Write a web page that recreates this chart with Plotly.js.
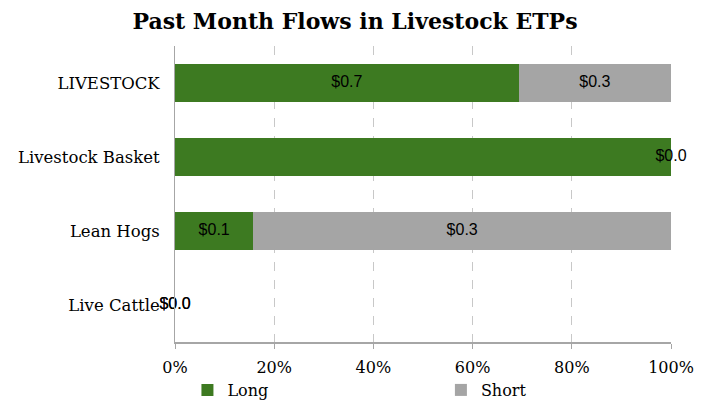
<!DOCTYPE html>
<html>
<head>
<meta charset="utf-8">
<script src="https://cdn.plot.ly/plotly-3.0.1.min.js"></script>
<style>html,body{margin:0;padding:0;background:#fff;}#chart{width:710px;height:405px;}</style>
</head>
<body>
<div id="chart"></div>
<script>
// Data (USD billions)
var categories = ["LIVESTOCK", "Livestock Basket", "Lean Hogs", "Live Cattle"];
var longValues = [0.70, 0.04, 0.06, 0.0];
var shortValues = [0.31, 0.0, 0.32, 0.0];
var longLabels = ["$0.7", "", "$0.1", "$0.0"];
var shortLabels = ["$0.3", "$0.0", "$0.3", "$0.0"];
var tickVals = [0, 20, 40, 60, 80, 100];
var tickText = ["0%", "20%", "40%", "60%", "80%", "100%"];

function pct(a, b) { var t = a + b; return t > 0 ? a / t * 100 : 0; }
var longPct = categories.map(function (c, i) { return pct(longValues[i], shortValues[i]); });
var shortPct = categories.map(function (c, i) { return pct(shortValues[i], longValues[i]); });
var longMid = longPct.map(function (p) { return p / 2; });
var shortMid = longPct.map(function (p, i) { return p + shortPct[i] / 2; });

var green = "rgb(61,122,33)";
var gray = "rgb(165,165,165)";
var labelFont = { family: "Liberation Sans, Arial, sans-serif", size: 16, color: "#000" };

var traces = [
  { type: "bar", orientation: "h", name: "Long", y: categories, x: longPct,
    marker: { color: green }, hoverinfo: "skip", legend: "legend" },
  { type: "bar", orientation: "h", name: "Short", y: categories, x: shortPct,
    marker: { color: gray }, hoverinfo: "skip", legend: "legend2" },
  { type: "scatter", mode: "text", y: categories, x: longMid, text: longLabels,
    textfont: labelFont, textposition: "middle center", showlegend: false,
    cliponaxis: false, hoverinfo: "skip" },
  { type: "scatter", mode: "text", y: categories, x: shortMid, text: shortLabels,
    textfont: labelFont, textposition: "middle center", showlegend: false,
    cliponaxis: false, hoverinfo: "skip" }
];

var serif = "DejaVu Serif, Georgia, serif";
var legendFont = { family: serif, size: 16, color: "#000" };
var layout = {
  width: 710, height: 405,
  margin: { l: 175, r: 39, t: 46, b: 63, autoexpand: false },
  paper_bgcolor: "#fff", plot_bgcolor: "#fff",
  barmode: "stack", bargap: 0.49,
  font: { family: serif, size: 15, color: "#000" },
  title: { text: "<b>Past Month Flows in Livestock ETPs</b>", x: 0.5, xanchor: "center",
           y: 0.948, yanchor: "middle",
           font: { family: serif, size: 22, color: "#000" } },
  xaxis: { range: [0, 100], tickvals: tickVals, ticktext: tickText,
           showgrid: true, gridcolor: "#c8c8c8", griddash: "dash", gridwidth: 1,
           showline: true, linecolor: "#a6a6a6", linewidth: 1.5,
           ticks: "outside", ticklen: 5, tickcolor: "#a6a6a6",
           ticklabelstandoff: 5,
           zeroline: false, fixedrange: true,
           tickfont: { family: serif, size: 16, color: "#000" } },
  yaxis: { type: "category", categoryorder: "array", categoryarray: categories,
           autorange: "reversed", showline: true, linecolor: "#a6a6a6", linewidth: 1.5,
           ticks: "", showgrid: false, zeroline: false, fixedrange: true,
           ticksuffix: "  ",
           tickfont: { family: serif, size: 16.5, color: "#000" } },
  showlegend: true,
  legend: { orientation: "h", xref: "container", x: 0.264, xanchor: "left",
            yref: "container", y: 0.037, yanchor: "middle", font: legendFont },
  legend2: { orientation: "h", xref: "container", x: 0.621, xanchor: "left",
             yref: "container", y: 0.037, yanchor: "middle", font: legendFont }
};

Plotly.newPlot("chart", traces, layout, { displayModeBar: false, staticPlot: true });
</script>
</body>
</html>
